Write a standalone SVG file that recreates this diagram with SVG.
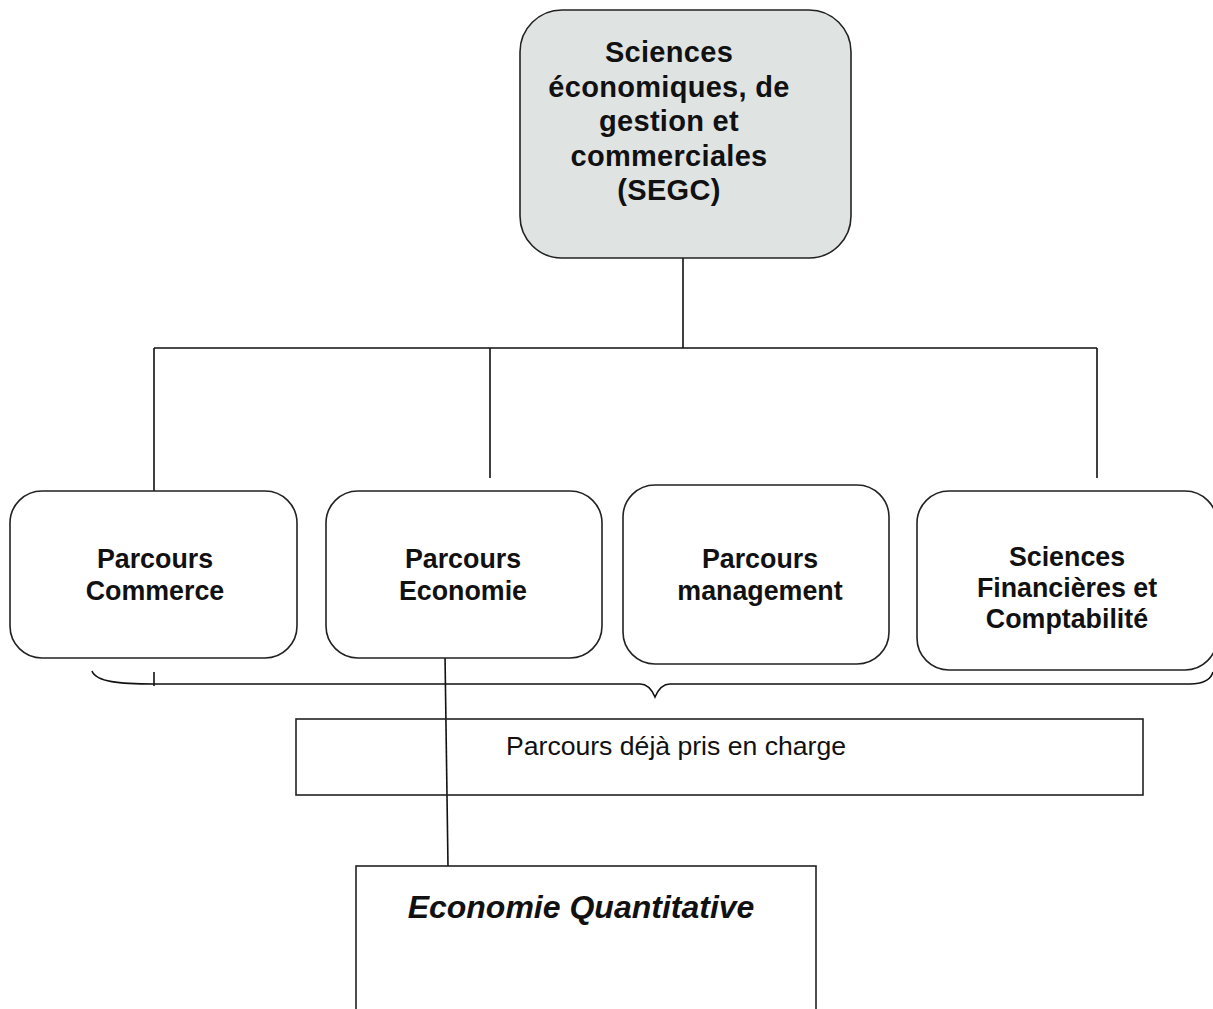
<svg xmlns="http://www.w3.org/2000/svg" width="1213" height="1009" viewBox="0 0 1213 1009">
<style>
.box{fill:#ffffff;stroke:#222;stroke-width:1.6}
.root{fill:#dfe3e2;stroke:#222;stroke-width:1.6}
.ln{fill:none;stroke:#111;stroke-width:1.6}
.b{font-family:"Liberation Sans",Arial,sans-serif;font-weight:bold;font-size:26.8px;fill:#111;text-anchor:middle}
.rt{font-size:29px;letter-spacing:0.3px}
.n{font-family:"Liberation Sans",Arial,sans-serif;font-size:26.6px;fill:#111;text-anchor:middle}
.bi{font-family:"Liberation Sans",Arial,sans-serif;font-weight:bold;font-style:italic;font-size:32px;fill:#111;text-anchor:middle}
</style>
<rect width="1213" height="1009" fill="#ffffff"/>
<g id="connectors">
<path class="ln" d="M683,258 V348 M154,348 H1097 M154,348 V492 M490,348 V478 M1097,348 V478"/>
<path class="ln" d="M154,672 V686"/>
<path class="ln" d="M92,671 C96,682 120,684 154,684 H640 C648,684 652,690 655,697 C658,690 662,684 670,684 H1190 C1205,684 1211,679 1213,672"/>
<path class="ln" d="M445,655 L448,866"/>
</g>
<g id="root">
<rect class="root" x="520" y="10" width="331" height="248" rx="42" ry="42"/>
<text class="b rt" x="669" y="62">Sciences</text>
<text class="b rt" x="669" y="97">économiques, de</text>
<text class="b rt" x="669" y="131">gestion et</text>
<text class="b rt" x="669" y="166">commerciales</text>
<text class="b rt" x="669" y="200">(SEGC)</text>
</g>
<g id="commerce">
<rect class="box" x="10" y="491" width="287" height="167" rx="32" ry="32"/>
<text class="b" x="155" y="568">Parcours</text>
<text class="b" x="155" y="600">Commerce</text>
</g>
<g id="economie">
<rect class="box" x="326" y="491" width="276" height="167" rx="32" ry="32"/>
<text class="b" x="463" y="568">Parcours</text>
<text class="b" x="463" y="600">Economie</text>
</g>
<g id="management">
<rect class="box" x="623" y="485" width="266" height="179" rx="32" ry="32"/>
<text class="b" x="760" y="568">Parcours</text>
<text class="b" x="760" y="600">management</text>
</g>
<g id="finance">
<rect class="box" x="917" y="491" width="300" height="179" rx="32" ry="32"/>
<text class="b" x="1067" y="566">Sciences</text>
<text class="b" x="1067" y="597">Financières et</text>
<text class="b" x="1067" y="628">Comptabilité</text>
</g>
<g id="deja">
<rect class="box" x="296" y="719" width="847" height="76" style="fill:none"/>
<text class="n" x="676" y="755">Parcours déjà pris en charge</text>
</g>
<g id="quant">
<rect class="box" x="356" y="866" width="460" height="160"/>
<text class="bi" x="581" y="918">Economie Quantitative</text>
</g>
</svg>
